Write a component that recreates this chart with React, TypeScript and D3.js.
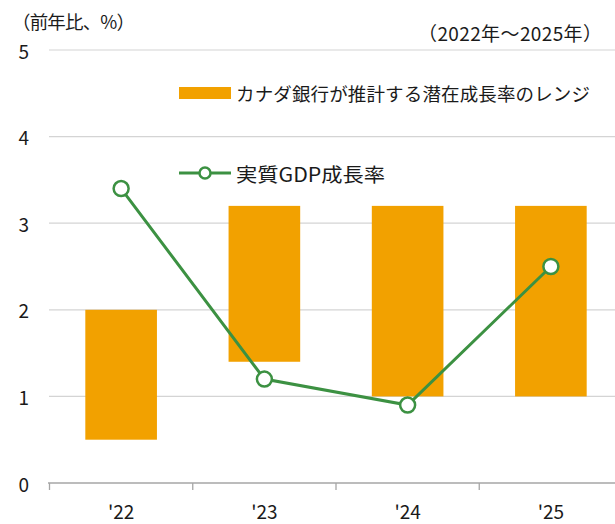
import React from "react";
import * as d3 from "d3";

const categories = ["'22", "'23", "'24", "'25"];
const rangeLow = [0.5, 1.4, 1.0, 1.0];
const rangeHigh = [2.0, 3.2, 3.2, 3.2];
const gdpGrowth = [3.4, 1.2, 0.9, 2.5];
const yTicks = [0, 1, 2, 3, 4, 5];
const titleLeft = "（前年比、%）";
const titleRight = "（2022年～2025年）";
const legendBar = "カナダ銀行が推計する潜在成長率のレンジ";
const legendLine = "実質GDP成長率";

const W = 615;
const H = 524;
const FONT = "'Noto Sans CJK JP', 'Noto Sans', sans-serif";
const ORANGE = "#F2A100";
const GREEN = "#3C9142";

export default function App() {
  const x = d3.scaleBand<string>().domain(categories).range([49.5, 622.5]).paddingInner(0.5).paddingOuter(0.25);
  const xStep = d3.scaleBand<string>().domain(categories).range([49.5, 622.5]).padding(0);
  const y = d3.scaleLinear().domain([0, 5]).range([483, 50]);
  const line = d3
    .line<number>()
    .x((_, i) => (xStep(categories[i]) as number) + xStep.bandwidth() / 2)
    .y((d) => y(d));

  return (
    <svg width={W} height={H} style={{ position: "absolute", left: 0, top: 0, background: "#fff" }} fontFamily={FONT}>
      <rect x={0} y={0} width={W} height={H} fill="#fff" />
      {yTicks.filter((t) => t > 0).map((t) => (
        <line key={t} x1={49} x2={615} y1={y(t)} y2={y(t)} stroke="#d4d4d4" strokeWidth={1.2} />
      ))}
      {yTicks.map((t) => (
        <text key={t} x={29} y={y(t)} textAnchor="end" dominantBaseline="central" fontSize={19} fill="#1a1a1a">
          {t}
        </text>
      ))}
      {categories.map((c, i) => (
        <rect
          key={c}
          x={x(c)}
          width={x.bandwidth()}
          y={y(rangeHigh[i])}
          height={y(rangeLow[i]) - y(rangeHigh[i])}
          fill={ORANGE}
        />
      ))}
      <line x1={48} x2={615} y1={483} y2={483} stroke="#a6a6a6" strokeWidth={1.3} />
      {categories.map((c) => (
        <line key={c} x1={xStep(c)} x2={xStep(c)} y1={483} y2={490} stroke="#a6a6a6" strokeWidth={1.3} />
      ))}
      {categories.map((c) => (
        <text
          key={c}
          x={(xStep(c) as number) + xStep.bandwidth() / 2}
          y={510}
          textAnchor="middle"
          dominantBaseline="central"
          fontSize={19}
          fill="#1a1a1a"
        >
          {c}
        </text>
      ))}
      <path d={line(gdpGrowth) || ""} fill="none" stroke={GREEN} strokeWidth={3} />
      {gdpGrowth.map((v, i) => (
        <circle
          key={i}
          cx={(xStep(categories[i]) as number) + xStep.bandwidth() / 2}
          cy={y(v)}
          r={7.5}
          fill="#fff"
          stroke={GREEN}
          strokeWidth={2.5}
        />
      ))}
      <text x={12} y={21} dominantBaseline="central" fontSize={18.5} fill="#1a1a1a" textLength={123} lengthAdjust="spacing">
        {titleLeft}
      </text>
      <text x={418} y={32} dominantBaseline="central" fontSize={19} fill="#1a1a1a" textLength={184} lengthAdjust="spacing">
        {titleRight}
      </text>
      <rect x={179} y={87} width={52} height={12} fill={ORANGE} />
      <text x={236} y={93} dominantBaseline="central" fontSize={18.5} fill="#1a1a1a" textLength={354} lengthAdjust="spacing">
        {legendBar}
      </text>
      <line x1={179} x2={231} y1={173} y2={173} stroke={GREEN} strokeWidth={3} />
      <circle cx={205} cy={173} r={5.5} fill="#fff" stroke={GREEN} strokeWidth={2.5} />
      <text x={236} y={173} dominantBaseline="central" fontSize={19.5} fill="#1a1a1a" textLength={149} lengthAdjust="spacingAndGlyphs">
        {legendLine}
      </text>
    </svg>
  );
}
